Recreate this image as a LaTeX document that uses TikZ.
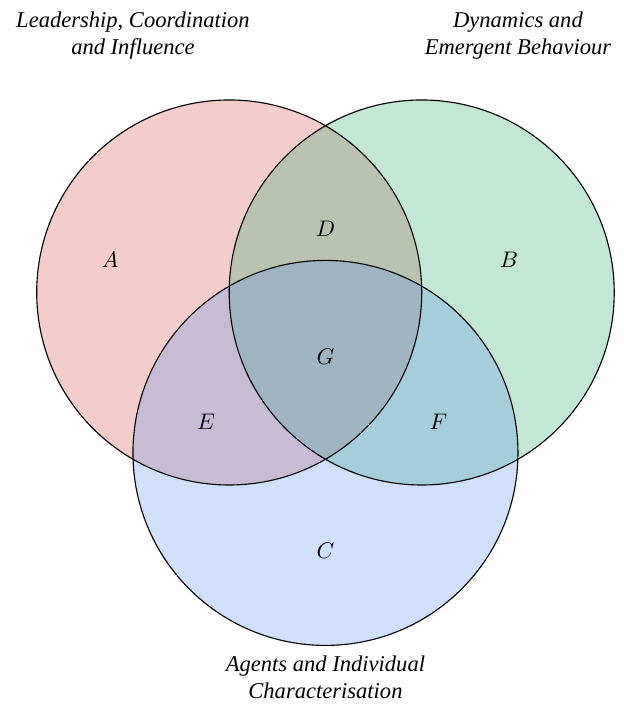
\documentclass[tikz,border=0pt]{standalone}
\usepackage{fontspec}
\setmainfont{Liberation Serif}[ItalicFont={Liberation Serif Italic}]
\definecolor{colA}{RGB}{218,85,85}
\definecolor{colB}{RGB}{52,175,115}
\definecolor{colC}{RGB}{98,148,238}
\begin{document}
\begin{tikzpicture}[
  setdisc/.style={circle, minimum size=6cm, inner sep=0pt, outer sep=0pt, fill opacity=0.3},
  ring/.style={circle, minimum size=6cm, inner sep=0pt, outer sep=0pt, draw=black, line width=0.5pt},
  region/.style={inner sep=1pt},
  settitle/.style={align=center, font=\itshape}]
\useasboundingbox (-3.572,-6.413) rectangle (6.152,4.558);
\node[setdisc, fill=colA] (setA) at (0,0) {};
\node[setdisc, fill=colB] (setB) at (3,0) {};
\node[setdisc, fill=colC] (setC) at (1.5,-2.5) {};
\node[ring] (ringA) at (setA.center) {};
\node[ring] (ringB) at (setB.center) {};
\node[ring] (ringC) at (setC.center) {};
\node[region] (lA) at (-1.857,0.506) {$A$};
\node[region] (lB) at (4.36,0.506) {$B$};
\node[region] (lD) at (1.5,1) {$D$};
\node[region] (lG) at (1.5,-1) {$G$};
\node[region] (lE) at (-0.36,-2.02) {$E$};
\node[region] (lF) at (3.26,-2.02) {$F$};
\node[region] (lC) at (1.5,-4.02) {$C$};
\node[settitle] (tA) at (-1.5,4) {Leadership, Coordination\\and Influence};
\node[settitle] (tB) at (4.5,4) {Dynamics and\\Emergent Behaviour};
\node[settitle] (tC) at (1.5,-6) {Agents and Individual\\Characterisation};
\end{tikzpicture}
\end{document}
